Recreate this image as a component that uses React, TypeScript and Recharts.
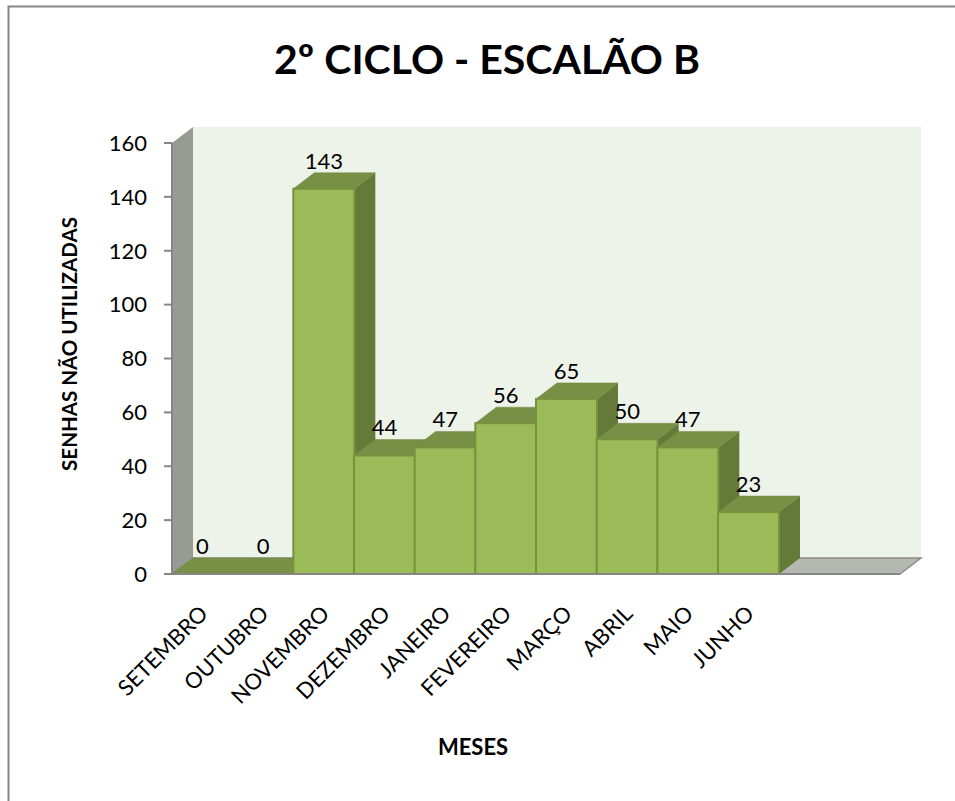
import { BarChart, Bar, XAxis, YAxis, LabelList, ReferenceArea } from "recharts";

const months = ["SETEMBRO", "OUTUBRO", "NOVEMBRO", "DEZEMBRO", "JANEIRO", "FEVEREIRO", "MARÇO", "ABRIL", "MAIO", "JUNHO", "", ""];
const values = [0, 0, 143, 44, 47, 56, 65, 50, 47, 23, null, null];
const yTicks = [0, 20, 40, 60, 80, 100, 120, 140, 160];

const data = months.map((month, i) => ({ month, value: values[i] }));

const FONT = "Lato, sans-serif";
const DX = 21;
const DY = 16;

function Box3D({ x, y, width, height, value }: any) {
  if (value == null) return null;
  const r = x + width;
  const b = y + height;
  return (
    <g>
      <polygon points={`${r},${y} ${r + DX},${y - DY} ${r + DX},${b - DY} ${r},${b}`} fill="#657a39" />
      <polygon points={`${x},${y} ${x + DX},${y - DY} ${r + DX},${y - DY} ${r},${y}`} fill="#788f46" stroke="#728a42" strokeWidth={0.5} />
      <rect x={x} y={y} width={width} height={height} fill="#9bbb59" stroke="#76923c" strokeWidth={2} />
    </g>
  );
}

function Room({ x, y, width, height }: any) {
  const r = x + width;
  const b = y + height;
  return (
    <g>
      <rect x={x + DX} y={y - DY} width={width} height={height} fill="#eef3ea" />
      <polygon points={`${x},${b} ${x + DX},${b - DY} ${x + DX},${y - DY} ${x},${y}`} fill="#989a94" />
      <polygon points={`${x},${b} ${x + DX},${b - DY} ${r + DX},${b - DY} ${r},${b}`} fill="#b5b7b1" stroke="#8c8c8c" strokeWidth={1.5} />
    </g>
  );
}

function MonthTick({ x, y, payload }: any) {
  return (
    <text transform={`translate(${x + 7},${y + 33}) rotate(-45)`} textAnchor="end" fontFamily={FONT} fontSize={22} fill="#000">
      {payload.value}
    </text>
  );
}

function ValueLabel({ x, y, width, value }: any) {
  if (value == null) return null;
  return (
    <text x={x + width / 2} y={y - 20} textAnchor="middle" fontFamily={FONT} fontSize={22} fill="#000">
      {value}
    </text>
  );
}

export default function App() {
  return (
    <div style={{ position: "absolute", left: 0, top: 0, width: 955, height: 801, overflow: "hidden", background: "#fff" }}>
      <BarChart
        width={955}
        height={801}
        data={data}
        barCategoryGap={0}
        margin={{ top: 143, right: 55, left: 0, bottom: 0 }}
      >
        <rect x={8.5} y={6.5} width={1000} height={1000} fill="#fff" stroke="#868686" strokeWidth={2} />
        <XAxis
          dataKey="month"
          height={227}
          interval={0}
          axisLine={{ stroke: "#868686", strokeWidth: 2 }}
          tickLine={false}
          tick={<MonthTick />}
        />
        <YAxis
          width={172}
          domain={[0, 160]}
          ticks={yTicks}
          interval={0}
          axisLine={{ stroke: "#868686", strokeWidth: 2 }}
          tickLine={{ stroke: "#868686", strokeWidth: 2 }}
          tickSize={8}
          tickMargin={17}
          tick={{ fontFamily: FONT, fontSize: 22, fill: "#000" }}
        />
        <ReferenceArea y1={0} y2={160} ifOverflow="visible" shape={<Room />} />
        <Bar dataKey="value" isAnimationActive={false} shape={<Box3D />}>
          <LabelList dataKey="value" content={<ValueLabel />} />
        </Bar>
        <text x={487} y={74} textAnchor="middle" fontFamily={FONT} fontWeight={700} fontSize={41} fill="#000">
          2º CICLO - ESCALÃO B
        </text>
        <text transform="translate(77,344) rotate(-90)" textAnchor="middle" fontFamily={FONT} fontWeight={700} fontSize={20.5} fill="#000">
          SENHAS NÃO UTILIZADAS
        </text>
        <text x={473} y={755} textAnchor="middle" fontFamily={FONT} fontWeight={700} fontSize={22} fill="#000">
          MESES
        </text>
      </BarChart>
    </div>
  );
}
